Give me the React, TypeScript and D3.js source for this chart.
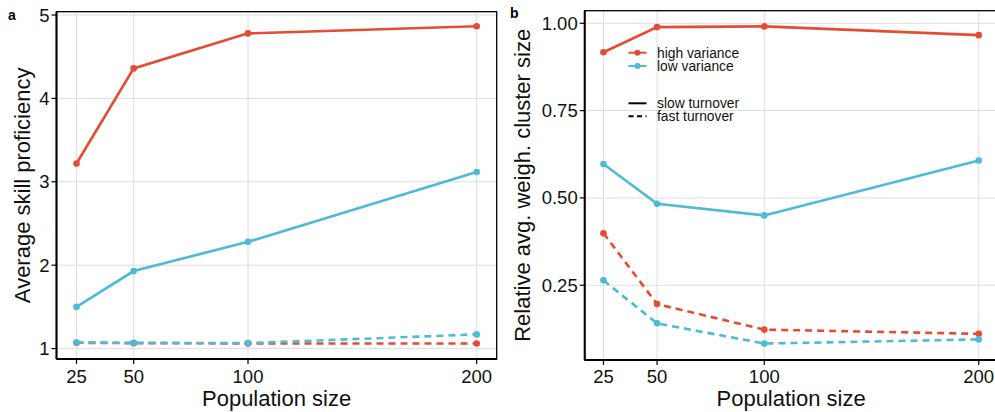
import React from 'react';
import * as d3 from 'd3';

// population sizes on x
const popSizes = [25, 50, 100, 200];

// panel a: average skill proficiency
const skillHighSlow = [3.22, 4.36, 4.78, 4.865];
const skillLowSlow = [1.5, 1.93, 2.28, 3.117];
const skillHighFast = [1.07, 1.065, 1.062, 1.06];
const skillLowFast = [1.072, 1.07, 1.065, 1.17];

// panel b: relative avg. weighted cluster size
const clusterHighSlow = [0.917, 0.989, 0.991, 0.966];
const clusterLowSlow = [0.597, 0.483, 0.45, 0.607];
const clusterHighFast = [0.399, 0.196, 0.123, 0.111];
const clusterLowFast = [0.264, 0.141, 0.083, 0.095];

const skillTicks = [1, 2, 3, 4, 5];
const clusterTicks = [0.25, 0.5, 0.75, 1.0];

const RED = '#E64B35';
const BLUE = '#4DBBD5';
const FONT = '"Liberation Sans", Arial, Helvetica, sans-serif';

type Series = { values: number[]; color: string; dashed: boolean };

function Panel({ label, series, yDomain, yTicks, yFormat, xRange, yRange, yTitle, titleX, labelX, labelY, legend }: any) {
    const x = d3.scaleLinear().domain([16.25, 208.75]).range(xRange);
    const y = d3.scaleLinear().domain(yDomain).range(yRange);
    const [x0, x1] = xRange;
    const [yb, yt] = yRange;

    const line = d3.line<number>()
        .x((d, i) => x(popSizes[i]))
        .y((d) => y(d));

    return (
        <g>
            {/* grid */}
            {yTicks.map((t: number) => (
                <line key={'gy' + t} x1={x0} x2={x1} y1={y(t)} y2={y(t)} stroke="#dedede" strokeWidth={1} />
            ))}
            {popSizes.map((t) => (
                <line key={'gx' + t} x1={x(t)} x2={x(t)} y1={yb} y2={yt} stroke="#dedede" strokeWidth={1} />
            ))}

            {/* series */}
            {series.map((s: Series, i: number) => (
                <g key={i}>
                    <path d={line(s.values) || ''} fill="none" stroke={s.color} strokeWidth={2.6}
                        strokeDasharray={s.dashed ? '7 5' : undefined} />
                    {s.values.map((v, j) => (
                        <circle key={j} cx={x(popSizes[j])} cy={y(v)} r={3.3} fill={s.color} />
                    ))}
                </g>
            ))}

            {/* border */}
            <rect x={x0} y={yt} width={x1 - x0} height={yb - yt} fill="none" stroke="#000" strokeWidth={1.3} />
            <line x1={x0} x2={x0} y1={yt} y2={yb} stroke="#000" strokeWidth={2} />
            <line x1={x0} x2={x1} y1={yb} y2={yb} stroke="#000" strokeWidth={2} />

            {/* y axis */}
            {yTicks.map((t: number) => (
                <g key={'ty' + t}>
                    <line x1={x0 - 5} x2={x0} y1={y(t)} y2={y(t)} stroke="#000" strokeWidth={1.2} />
                    <text x={x0 - 7} y={y(t)} dy="0.35em" textAnchor="end" fontSize={18.5} fontFamily={FONT} fill="#111">
                        {yFormat(t)}
                    </text>
                </g>
            ))}
            {/* x axis */}
            {popSizes.map((t) => (
                <g key={'tx' + t}>
                    <line x1={x(t)} x2={x(t)} y1={yb} y2={yb + 5} stroke="#000" strokeWidth={1.2} />
                    <text x={x(t)} y={382.5} textAnchor="middle" fontSize={18.5} fontFamily={FONT} fill="#111">
                        {t}
                    </text>
                </g>
            ))}

            <text x={(x0 + x1) / 2} y={406} textAnchor="middle" fontSize={22} fontFamily={FONT} fill="#111">
                Population size
            </text>
            <text transform={`translate(${titleX}, ${(yb + yt) / 2}) rotate(-90)`} textAnchor="middle"
                fontSize={22} fontFamily={FONT} fill="#111">
                {yTitle}
            </text>
            <text x={labelX} y={labelY} fontSize={14} fontWeight="bold" fontFamily={FONT} fill="#000">{label}</text>

            {legend && (
                <g fontFamily={FONT} fontSize={13.8} fill="#111">
                    <line x1={628.5} x2={646.5} y1={52.7} y2={52.7} stroke={RED} strokeWidth={2} />
                    <circle cx={637.5} cy={52.7} r={3} fill={RED} />
                    <text x={657} y={57.7}>high variance</text>
                    <line x1={628.5} x2={646.5} y1={66} y2={66} stroke={BLUE} strokeWidth={2} />
                    <circle cx={637.5} cy={66} r={3} fill={BLUE} />
                    <text x={657} y={70.5}>low variance</text>
                    <line x1={628.5} x2={646.5} y1={103.3} y2={103.3} stroke="#000" strokeWidth={2} />
                    <text x={657} y={107.8}>slow turnover</text>
                    <line x1={628.5} x2={646.5} y1={116.3} y2={116.3} stroke="#000" strokeWidth={2} strokeDasharray="5 3.5" />
                    <text x={657} y={120.5}>fast turnover</text>
                </g>
            )}
        </g>
    );
}

export default function App() {
    const seriesA: Series[] = [
        { values: skillHighSlow, color: RED, dashed: false },
        { values: skillHighFast, color: RED, dashed: true },
        { values: skillLowSlow, color: BLUE, dashed: false },
        { values: skillLowFast, color: BLUE, dashed: true },
    ];
    const seriesB: Series[] = [
        { values: clusterHighSlow, color: RED, dashed: false },
        { values: clusterHighFast, color: RED, dashed: true },
        { values: clusterLowSlow, color: BLUE, dashed: false },
        { values: clusterLowFast, color: BLUE, dashed: true },
    ];

    return (
        <div style={{ position: 'absolute', left: 0, top: 0 }}>
            <svg width={995} height={412} style={{ display: 'block', background: '#fff' }}>
                <Panel label="a" series={seriesA} yDomain={[0.875, 5.04]} yTicks={skillTicks}
                    yFormat={(t: number) => String(t)} xRange={[56.5, 496.7]} yRange={[359, 11.7]}
                    yTitle="Average skill proficiency" titleX={30} labelX={8} labelY={20} legend={false} />
                <Panel label="b" series={seriesB} yDomain={[0.036, 1.036]} yTicks={clusterTicks}
                    yFormat={d3.format('.2f')} xRange={[584.7, 997.5]} yRange={[360, 10.7]}
                    yTitle="Relative avg. weigh. cluster size" titleX={530} labelX={510} labelY={18} legend={true} />
            </svg>
        </div>
    );
}
